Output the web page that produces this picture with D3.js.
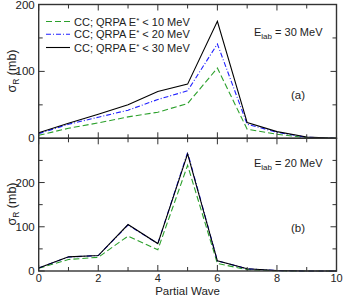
<!DOCTYPE html>
<html><head><meta charset="utf-8">
<script src="https://cdn.jsdelivr.net/npm/d3@7/dist/d3.min.js"></script>
<style>body{margin:0;background:#fff}svg{display:block;font-family:"Liberation Sans",Arial,sans-serif}</style>
</head><body>
<svg id="c" width="343" height="296"></svg>
<script>
const partialWaves = [0,1,2,3,4,5,6,7,8,9,10];
// Panel (a) Elab = 30 MeV
const a_E10 = [4.5, 15, 23, 32, 39, 52, 105, 13.5, 6, 1, 0];
const a_E20 = [7, 21, 31.5, 42, 58, 71, 141, 21, 9, 1.5, 0];
const a_E30 = [8.4, 22.5, 36, 50, 70, 81, 175, 23.5, 10, 2, 0];
// Panel (b) Elab = 20 MeV
const b_E10 = [6, 26, 31, 79, 48, 239, 17, 3, 0.5, 0, 0];
const b_E20 = [7, 31.5, 35, 104, 62, 268, 23, 5, 1, 0, 0];
const b_E30 = [7, 32, 35, 105, 62, 265, 23, 5, 1, 0, 0];
const legendLabels = ["10", "20", "30"];
const xTicks = [0,2,4,6,8,10];
const aYTicks = [0,100,200];
const bYTicks = [0,100,200];

const svg = d3.select("#c");
const L = 38.7, R = 336.5;
const x = d3.scaleLinear().domain([0,10]).range([L,R]);
const panels = [
  {top:4.5, bot:138.3, ymax:200, series:[a_E10,a_E20,a_E30], yt:aYTicks, minor:[50,150], energy:"30", tag:"(a)", ey:36, ty:99, labelY:71},
  {top:138.3, bot:271, ymax:300, series:[b_E10,b_E20,b_E30], yt:bYTicks, minor:[50,150,250], energy:"20", tag:"(b)", ey:167, ty:232, labelY:204}
];
const styles = [
  {color:"#2ca02c", dash:"6,3"},
  {color:"#2020ff", dash:"5,2,1,2"},
  {color:"#000000", dash:null}
];
const axisColor = "#333";

panels.forEach((p, pi) => {
  const y = d3.scaleLinear().domain([0,p.ymax]).range([p.bot,p.top]);
  const g = svg.append("g");
  const line = d3.line().x((d,i)=>x(partialWaves[i])).y(d=>y(d));
  p.series.forEach((s, si) => {
    g.append("path").datum(s).attr("d", line)
      .attr("fill","none").attr("stroke", styles[si].color)
      .attr("stroke-width", 1.1)
      .attr("stroke-dasharray", styles[si].dash);
  });
  g.append("rect").attr("x",L).attr("y",p.top).attr("width",R-L).attr("height",p.bot-p.top)
    .attr("fill","none").attr("stroke",axisColor).attr("stroke-width",1.4);
  d3.range(0,11).forEach(v => {
    const len = v%2===0 ? 6 : 4;
    g.append("line").attr("x1",x(v)).attr("x2",x(v)).attr("y1",p.bot).attr("y2",p.bot-len).attr("stroke",axisColor).attr("stroke-width",1);
    g.append("line").attr("x1",x(v)).attr("x2",x(v)).attr("y1",p.top).attr("y2",p.top+len).attr("stroke",axisColor).attr("stroke-width",1);
  });
  p.yt.concat(p.minor).forEach(v => {
    const len = p.yt.includes(v) ? 6 : 4;
    g.append("line").attr("x1",L).attr("x2",L+len).attr("y1",y(v)).attr("y2",y(v)).attr("stroke",axisColor).attr("stroke-width",1);
    g.append("line").attr("x1",R).attr("x2",R-len).attr("y1",y(v)).attr("y2",y(v)).attr("stroke",axisColor).attr("stroke-width",1);
  });
  p.yt.forEach(v => {
    g.append("text").attr("x",L-4).attr("y",y(v)+4).attr("text-anchor","end")
      .attr("font-size",11.5).attr("fill","#222").text(v);
  });
  const yl = g.append("text").attr("transform",`translate(16,${p.labelY}) rotate(-90)`)
    .attr("text-anchor","middle").attr("font-size",12.5).attr("fill","#222");
  yl.append("tspan").text("σ");
  yl.append("tspan").attr("font-size",8.5).attr("dy",3).text("R");
  yl.append("tspan").attr("dy",-3).text(" (mb)");
  const et = g.append("text").attr("x",254).attr("y",p.ey).attr("font-size",11).attr("fill","#222");
  et.append("tspan").text("E");
  et.append("tspan").attr("font-size",8).attr("dy",3).text("lab");
  et.append("tspan").attr("dy",-3).text(" = " + p.energy + " MeV");
  g.append("text").attr("x",291).attr("y",p.ty).attr("font-size",11.5).attr("fill","#222").text(p.tag);
});

const legY = [21.5, 34.3, 47.5];
legendLabels.forEach((lab, i) => {
  svg.append("line").attr("x1",46).attr("x2",70).attr("y1",legY[i]).attr("y2",legY[i])
    .attr("stroke",styles[i].color).attr("stroke-width",1.1).attr("stroke-dasharray",styles[i].dash);
  const t = svg.append("text").attr("x",74).attr("y",legY[i]+4).attr("font-size",11).attr("fill","#222");
  t.append("tspan").text("CC; QRPA E");
  t.append("tspan").attr("font-size",8).attr("dy",-3).text("*");
  t.append("tspan").attr("dy",3).text(" < " + lab + " MeV");
});

xTicks.forEach(v => {
  svg.append("text").attr("x",x(v)).attr("y",282).attr("text-anchor","middle")
    .attr("font-size",11).attr("fill","#222").text(v);
});
svg.append("text").attr("x",(L+R)/2).attr("y",294.5).attr("text-anchor","middle")
  .attr("font-size",11.5).attr("fill","#222").text("Partial Wave");
</script>
</body></html>
